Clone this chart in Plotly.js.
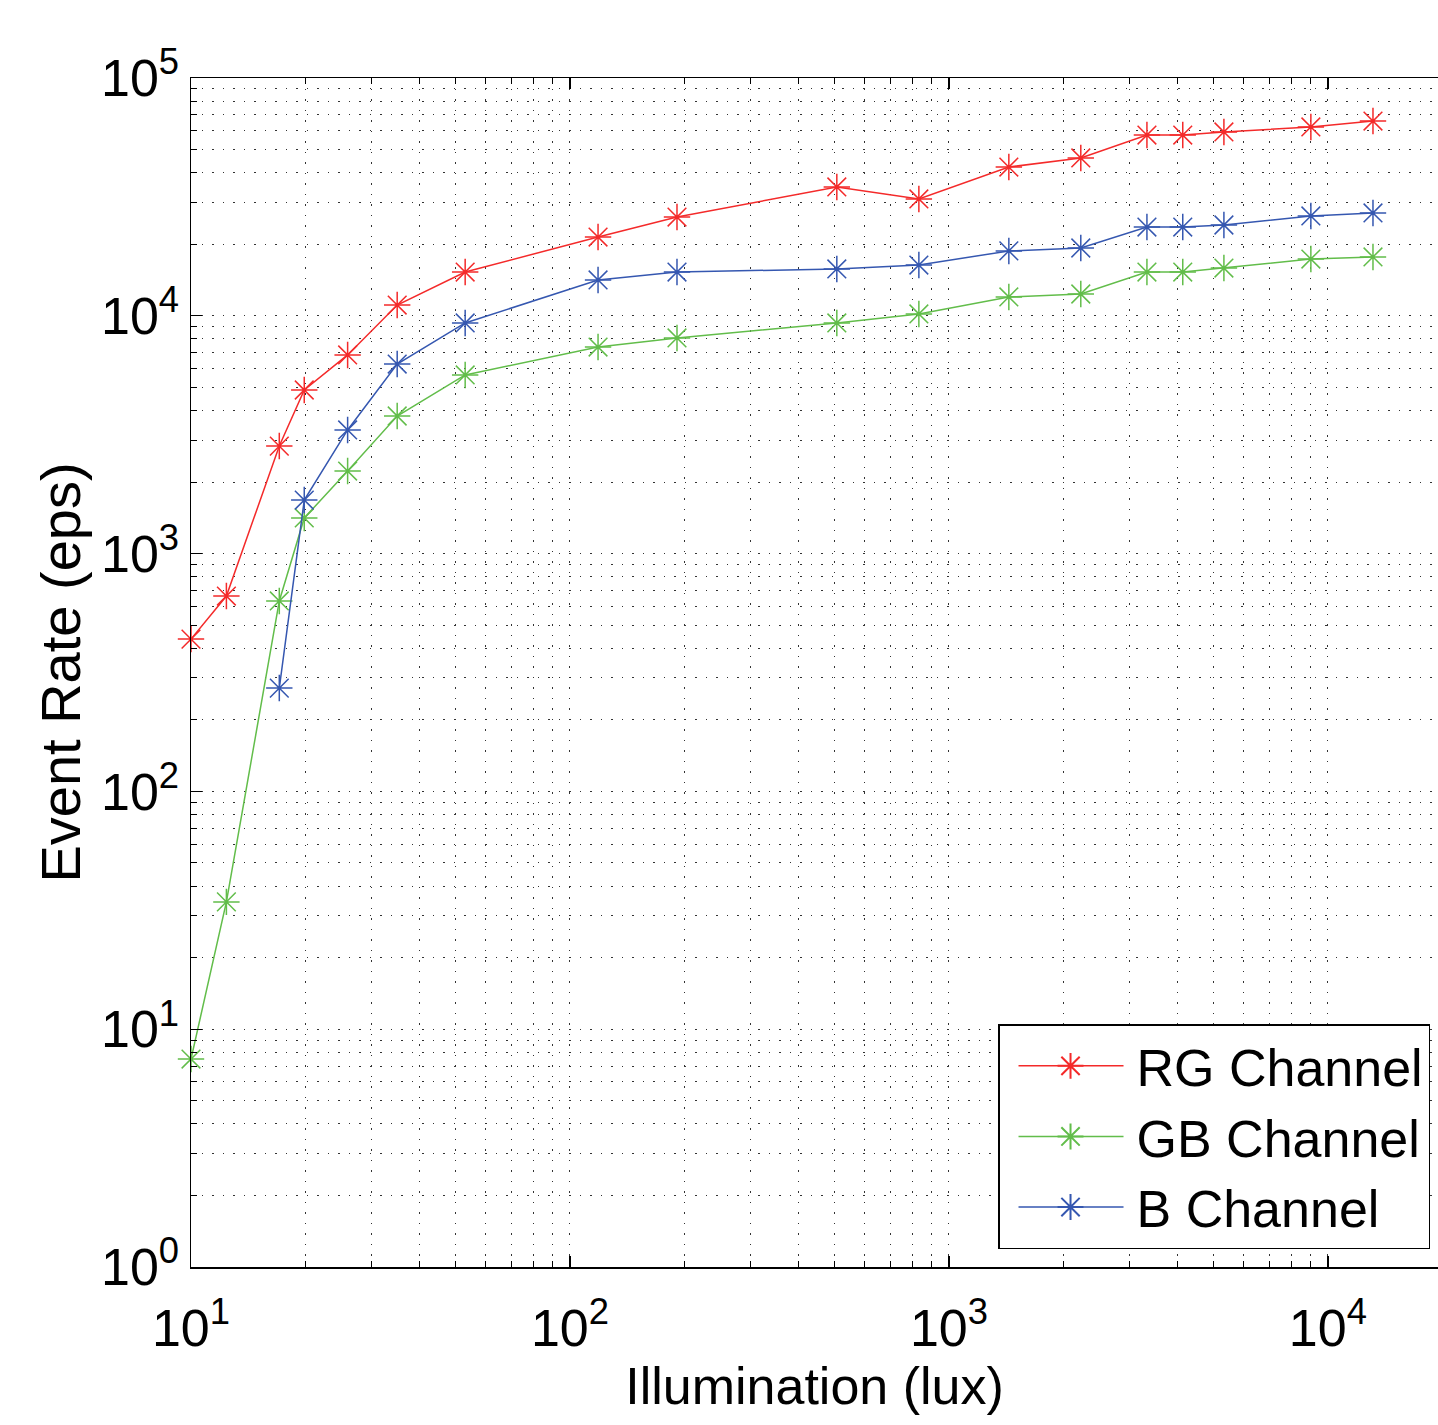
<!DOCTYPE html>
<html><head><meta charset="utf-8">
<script src="https://cdn.plot.ly/plotly-3.0.1.min.js"></script>
<style>html,body{margin:0;padding:0;background:#fff;}#chart{width:1438px;height:1425px;}</style>
</head><body><div id="chart"></div>
<script>
// Illumination (lux) for RG and GB channels
const illumination = [10, 12.4, 17.1, 19.9, 25.9, 35, 52.9, 118.6, 191.6, 506, 833, 1439, 2228, 3330, 4140, 5316, 9016, 13150];
// Illumination (lux) for B channel
const illuminationB = [17.1, 19.9, 25.9, 35, 52.9, 118.6, 191.6, 506, 833, 1439, 2228, 3330, 4140, 5316, 9016, 13150];
// Event rates (eps)
const rgRate = [437, 663, 2833, 4875, 6845, 11100, 15280, 21440, 26020, 34820, 30990, 42230, 46100, 57560, 57560, 59290, 62230, 65930];
const gbRate = [7.49, 34.3, 632, 1412, 2224, 3790, 5640, 7390, 8070, 9330, 10180, 12000, 12350, 15280, 15280, 15880, 17330, 17680];
const bRate = [272, 1680, 3310, 6270, 9330, 14150, 15280, 15740, 16350, 18740, 19280, 23620, 23620, 24090, 26290, 27070];

const seriesNames = ['RG Channel', 'GB Channel', 'B Channel'];
const seriesColors = ['#f42a2a', '#62bd4a', '#3557b0'];

const xTickVals = [10, 100, 1000, 10000];
const xTickText = ['10<sup>1</sup>', '10<sup>2</sup>', '10<sup>3</sup>', '10<sup>4</sup>'];
const yTickVals = [1, 10, 100, 1000, 10000, 100000];
const yTickText = ['10<sup>0</sup>', '10<sup>1</sup>', '10<sup>2</sup>', '10<sup>3</sup>', '10<sup>4</sup>', '10<sup>5</sup>'];

const FONT = 'Liberation Sans, Arial, Helvetica, sans-serif';

function mk(x, y, i) {
  return {
    x: x, y: y, name: seriesNames[i], type: 'scatter', mode: 'lines+markers', cliponaxis: false,
    line: {color: seriesColors[i], width: 1.5},
    marker: {symbol: 'asterisk-open', size: 22, color: seriesColors[i], line: {color: seriesColors[i], width: 1.5}}
  };
}
const data = [mk(illumination, rgRate, 0), mk(illumination, gbRate, 1), mk(illuminationB, bRate, 2)];

const gridDash = '1.5px,9px';
const axisCommon = {
  type: 'log', showline: true, linecolor: '#000', linewidth: 1.5,
  ticks: 'inside', ticklen: 11, tickwidth: 1.2, tickcolor: '#000',
  showgrid: true, gridcolor: '#333', gridwidth: 1, griddash: gridDash,
  zeroline: false, tickmode: 'array',
  tickfont: {family: FONT, size: 52, color: '#000'},
  minor: {ticks: 'inside', ticklen: 6, tickwidth: 1, tickcolor: '#000', dtick: 'D1',
          showgrid: true, gridcolor: '#333', gridwidth: 1, griddash: gridDash}
};

const layout = {
  width: 1438, height: 1425,
  paper_bgcolor: '#fff', plot_bgcolor: '#fff',
  margin: {l: 191, r: 0, t: 78, b: 158},
  font: {family: FONT, color: '#000'},
  showlegend: true,
  xaxis: Object.assign({}, axisCommon, {
    range: [1, 4.2905], tickvals: xTickVals, ticktext: xTickText, mirror: 'allticks',
    ticklabelstandoff: 15,
    title: {text: 'Illumination (lux)', font: {family: FONT, size: 52, color: '#000'}, standoff: 10}
  }),
  yaxis: Object.assign({}, axisCommon, {
    range: [0, 5], tickvals: yTickVals, ticktext: yTickText,
    title: {text: 'Event Rate (eps)', font: {family: FONT, size: 56, color: '#000'}, standoff: 2}
  }),
  legend: {
    x: 0.9936, y: 0.0151, xanchor: 'right', yanchor: 'bottom',
    bgcolor: '#fff', bordercolor: '#000', borderwidth: 1.5,
    font: {family: FONT, size: 52, color: '#000'},
    itemwidth: 127, tracegroupgap: 0
  }
};

Plotly.newPlot('chart', data, layout, {displayModeBar: false, staticPlot: true}).then(function (gd) {
  // lengthen legend sample lines to match the reference style
  const items = gd.querySelectorAll('.legend .traces');
  items.forEach(function (g) {
    const line = g.querySelector('path.js-line');
    if (line) line.setAttribute('d', 'M19,0h105');
    const pts = g.querySelectorAll('.legendpoints path.scatterpts');
    pts.forEach(function (p) { p.setAttribute('transform', 'translate(71,0) scale(1.35)'); });
  });
});
</script>
</body></html>
